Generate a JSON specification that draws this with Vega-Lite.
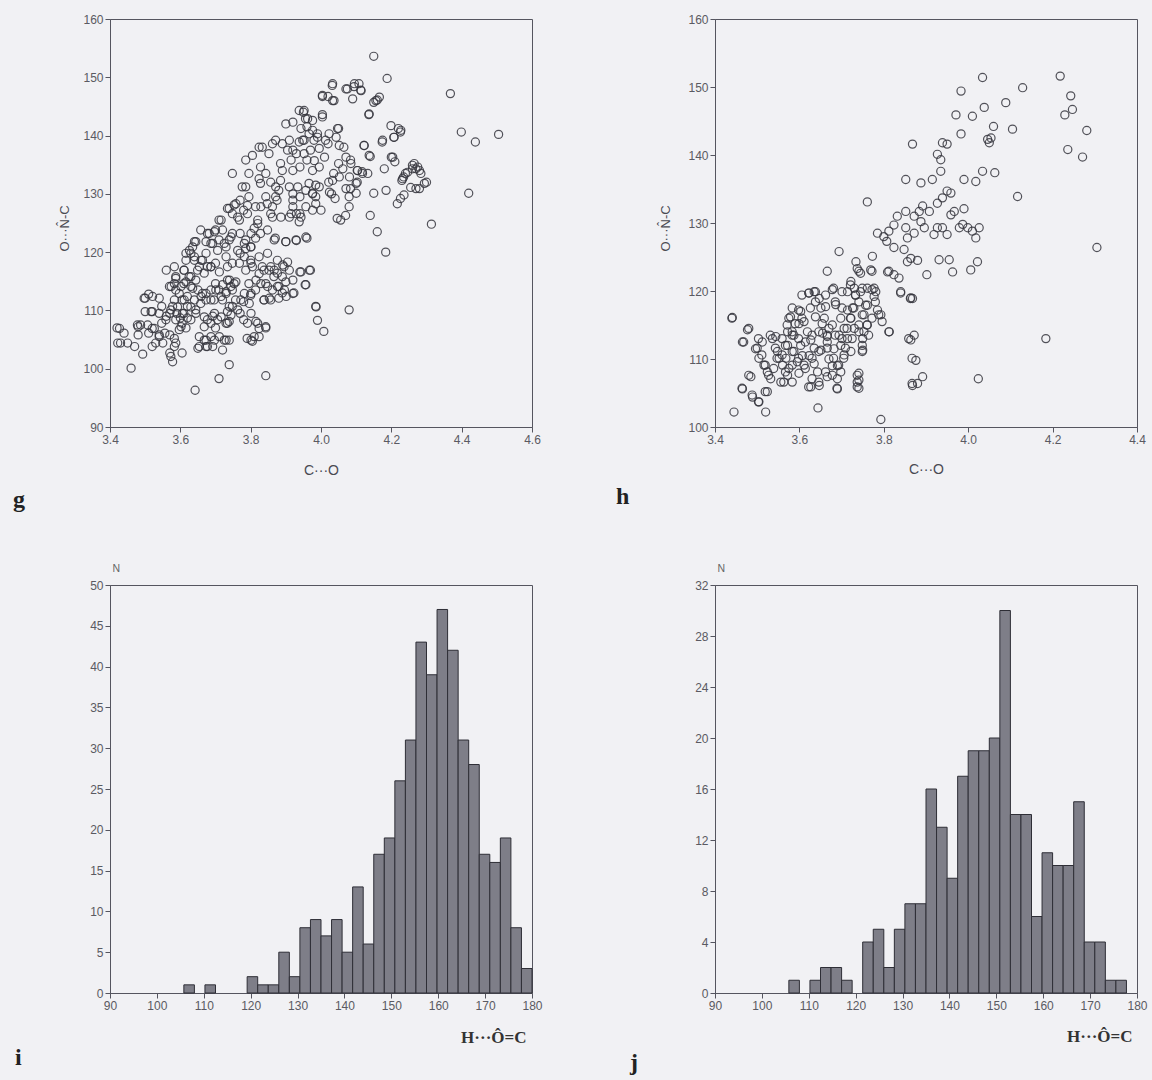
{
  "$schema": "https://vega.github.io/schema/vega-lite/v6.json",
  "background": "#f1f1f4",
  "padding": {"left": 12, "top": 12, "right": 5, "bottom": 5},
  "columns": 2,
  "bounds": "flush",
  "spacing": {"row": 158, "column": 183},
  "config": {
    "view": {"stroke": "#55555f", "strokeWidth": 1},
    "axis": {"domainColor": "#55555f", "tickColor": "#55555f", "tickSize": 5, "labelColor": "#5a5a62", "labelFont": "Liberation Sans", "labelFontSize": 12, "labelPadding": 2, "grid": false, "labelFlush": false, "labelOverlap": false, "titleFont": "Liberation Sans", "titleFontWeight": "normal", "titleColor": "#4a4a52"},
    "title": {"font": "Liberation Serif", "fontSize": 24, "fontWeight": "bold", "color": "#222"}
  },
  "datasets": {
    "g": [
{"co":4.15,"a":153.6},{"co":4.188,"a":149.8},{"co":4.368,"a":147.2},{"co":4.399,"a":140.6},{"co":4.439,"a":138.9},{"co":4.505,"a":140.2},{"co":4.42,"a":130.1},{"co":4.314,"a":124.8},{"co":4.184,"a":120},{"co":4.08,"a":110.1},{"co":3.985,"a":110.7},{"co":3.99,"a":108.3},{"co":4.008,"a":106.4},{"co":3.843,"a":98.8},{"co":3.71,"a":98.3},{"co":3.642,"a":96.3},{"co":3.46,"a":100.1},{"co":3.739,"a":100.7},{"co":3.493,"a":102.5},{"co":3.42,"a":107},{"co":3.43,"a":104.4},{"co":3.45,"a":104.4},{"co":3.48,"a":107.2},{"co":3.48,"a":105.8},
{"co":4.032,"a":148.6},{"co":4.004,"a":146.7},{"co":4.02,"a":146.7},{"co":4.037,"a":146},{"co":4.075,"a":148},{"co":4.094,"a":148.4},{"co":4.113,"a":147.8},{"co":4.09,"a":146.3},{"co":4.108,"a":148.9},{"co":4.16,"a":146.1},{"co":4.15,"a":145.7},{"co":4.136,"a":143.6},{"co":4.004,"a":143.6},{"co":3.95,"a":144},{"co":3.956,"a":142.9},{"co":4.05,"a":141.2},{"co":4.22,"a":141.2},{"co":4.226,"a":140.6},{"co":4.207,"a":139.7},{"co":4.174,"a":138.9},{"co":4.122,"a":138.3},{"co":4.14,"a":136.4},{"co":4.2,"a":136.3},{"co":4.21,"a":135.5},{"co":4.18,"a":134.3},{"co":4.15,"a":130.1},{"co":4.185,"a":130.6},{"co":4.14,"a":126.3},{"co":4.16,"a":123.5},{"co":4.217,"a":128.3},{"co":4.226,"a":129.2},{"co":4.236,"a":129.8},{"co":4.23,"a":132.3},{"co":4.24,"a":133.5},{"co":4.26,"a":134.3},{"co":4.275,"a":134.6},{"co":4.265,"a":135.2},{"co":4.28,"a":134},{"co":4.255,"a":131.1},{"co":4.28,"a":130.9},{"co":4.3,"a":132},{"co":4.235,"a":132.9},{"co":4.103,"a":134},{"co":4.117,"a":133.8},{"co":4.133,"a":133.5},{"co":4.103,"a":132},{"co":4.084,"a":130.9},{"co":4.08,"a":129.5},{"co":4.08,"a":127.8},{"co":4.07,"a":126.3},{"co":4.056,"a":125.5},{"co":4.046,"a":125.8},{"co":4.084,"a":135.8},{"co":4.065,"a":138},{"co":4.05,"a":135.2},{"co":4.036,"a":133.5},{"co":4.022,"a":132},{"co":4.03,"a":130},{"co":4.04,"a":129.2},{"co":4.0,"a":127.2},{"co":3.985,"a":129.5},{"co":3.985,"a":131.5},{"co":3.96,"a":122.4},{"co":3.93,"a":122},{"co":3.9,"a":121.8},{"co":3.87,"a":122.4},{"co":3.94,"a":116.6},{"co":3.97,"a":116.9},{"co":3.955,"a":114.4},{"co":3.923,"a":113},{"co":3.89,"a":113},{"co":3.88,"a":112.1},{"co":3.838,"a":111.8},{"co":3.857,"a":111.8},{"co":3.89,"a":115.8},{"co":3.9,"a":114.9},{"co":3.824,"a":105.5},{"co":3.805,"a":104.7},{"co":3.79,"a":105.2},{"co":3.82,"a":107.8},{"co":3.843,"a":107},{"co":3.8,"a":112.6},{"co":3.78,"a":111.5},{"co":3.77,"a":109.5},{"co":3.78,"a":108.4},
{"co":3.56,"a":116.9},{"co":3.51,"a":112.8},{"co":3.5,"a":112.1},{"co":3.54,"a":112.1},{"co":3.52,"a":109.8},{"co":3.51,"a":106.1},{"co":3.52,"a":103.8},{"co":3.53,"a":104.4},{"co":3.54,"a":105.8},{"co":3.556,"a":106.1},{"co":3.57,"a":102.7},{"co":3.578,"a":101.2},{"co":3.587,"a":104.4},{"co":3.56,"a":109},{"co":3.57,"a":109.5},{"co":3.578,"a":110.7},{"co":3.583,"a":111.8},{"co":3.574,"a":114.1},{"co":3.587,"a":113.5},{"co":3.59,"a":109.5},{"co":3.6,"a":108.7},{"co":3.61,"a":109.5},{"co":3.605,"a":107.8},{"co":3.616,"a":107},{"co":3.597,"a":106.7},{"co":3.63,"a":108.4},{"co":3.62,"a":110.7},{"co":3.605,"a":111.8},{"co":3.62,"a":112.4},{"co":3.63,"a":114.1},{"co":3.61,"a":114.6},{"co":3.61,"a":116.9},{"co":3.625,"a":115.8},{"co":3.644,"a":115.2},{"co":3.63,"a":119.8},{"co":3.644,"a":121.8},{"co":3.64,"a":118.6},{"co":3.654,"a":117.5},{"co":3.663,"a":118.6},{"co":3.677,"a":117.5},{"co":3.65,"a":113.5},{"co":3.663,"a":112.9},{"co":3.673,"a":111.8},{"co":3.658,"a":111.2},{"co":3.644,"a":110.1},{"co":3.654,"a":105.5},{"co":3.65,"a":103.5},{"co":3.673,"a":103.8},{"co":3.687,"a":105.5},{"co":3.673,"a":104.9},{"co":3.692,"a":103.8},{"co":3.72,"a":103.2},{"co":3.73,"a":104.9},{"co":3.739,"a":104.9},{"co":3.677,"a":108.4},{"co":3.692,"a":109},{"co":3.706,"a":108.4},{"co":3.7,"a":107},{"co":3.687,"a":113.5},{"co":3.7,"a":114.6},{"co":3.71,"a":113.5},{"co":3.72,"a":114.4},{"co":3.73,"a":112.9},{"co":3.696,"a":111.8},{"co":3.72,"a":111.8},{"co":3.74,"a":115.2},{"co":3.753,"a":114.6},{"co":3.734,"a":109.8},{"co":3.739,"a":110.7},{"co":3.73,"a":107.8},{"co":3.739,"a":108.1},{"co":3.687,"a":117.5},{"co":3.7,"a":118.1},{"co":3.673,"a":119.8},{"co":3.692,"a":121.5},{"co":3.682,"a":123.2},{"co":3.71,"a":125.5},{"co":3.7,"a":123.8},{"co":3.72,"a":123.8},{"co":3.71,"a":122.1},{"co":3.73,"a":120.9},{"co":3.739,"a":122.1},{"co":3.748,"a":123.2},{"co":3.73,"a":119.2},{"co":3.748,"a":118.1},{"co":3.734,"a":127.5},{"co":3.748,"a":126.6},{"co":3.763,"a":126},{"co":3.753,"a":128.1},{"co":3.748,"a":133.5},{"co":3.77,"a":128.9},{"co":3.776,"a":131.2},{"co":3.786,"a":131.2},{"co":3.795,"a":129.5},{"co":3.78,"a":127.2},{"co":3.77,"a":123.2},{"co":3.786,"a":122.1},{"co":3.8,"a":120.9},{"co":3.786,"a":120.6},{"co":3.77,"a":119.8},{"co":3.8,"a":118.6},{"co":3.805,"a":117.5},{"co":3.824,"a":119.2},{"co":3.814,"a":122.4},{"co":3.828,"a":123.2},{"co":3.81,"a":124.1},{"co":3.82,"a":125.5},{"co":3.805,"a":136.6},{"co":3.828,"a":134.6},{"co":3.824,"a":132.6},{"co":3.833,"a":138},{"co":3.852,"a":136.9},{"co":3.862,"a":138.6},{"co":3.843,"a":133.5},{"co":3.857,"a":132},{"co":3.871,"a":131.2},{"co":3.843,"a":129.5},{"co":3.847,"a":128.3},{"co":3.862,"a":127.8},{"co":3.862,"a":126},{"co":3.88,"a":130.6},{"co":3.885,"a":132.3},{"co":3.89,"a":134},{"co":3.885,"a":135.2},{"co":3.871,"a":139.2},{"co":3.89,"a":138.6},{"co":3.91,"a":139.2},{"co":3.9,"a":142},{"co":3.92,"a":142.3},{"co":3.905,"a":137.5},{"co":3.92,"a":137.5},{"co":3.93,"a":136.9},{"co":3.915,"a":135.8},{"co":3.938,"a":138.9},{"co":3.952,"a":139.2},{"co":3.966,"a":140.3},{"co":3.976,"a":140.9},{"co":3.99,"a":140.3},{"co":3.96,"a":141.5},{"co":3.98,"a":139.2},{"co":3.99,"a":139.7},{"co":4.013,"a":139.2},{"co":3.952,"a":136.9},{"co":3.96,"a":135.8},{"co":3.97,"a":137.5},{"co":3.94,"a":134.6},{"co":3.92,"a":134},{"co":3.91,"a":131.2},{"co":3.92,"a":130},{"co":3.934,"a":131.2},{"co":3.94,"a":129.5},{"co":3.957,"a":130.6},{"co":3.966,"a":131.8},{"co":3.976,"a":130},{"co":3.985,"a":128.3},{"co":3.92,"a":127.8},{"co":3.93,"a":126.6},{"co":3.938,"a":125.2},{"co":3.91,"a":126},{"co":3.94,"a":126.6},{"co":3.957,"a":127.8},{"co":3.92,"a":128.9},{"co":3.976,"a":134},{"co":3.995,"a":134.6},{"co":4.01,"a":136.3},{"co":4.02,"a":138.6},{"co":4.023,"a":140.3},{"co":3.871,"a":129.5},{"co":3.875,"a":128.9},{"co":3.828,"a":131.8},{"co":3.814,"a":127.8},{"co":3.786,"a":135.8},{"co":3.795,"a":133.5},{"co":3.748,"a":113.5},{"co":3.757,"a":111.8},{"co":3.748,"a":110.7},{"co":3.824,"a":116.3},{"co":3.833,"a":117.5},{"co":3.852,"a":116.9},{"co":3.866,"a":115.8},{"co":3.843,"a":114.6},{"co":3.862,"a":113.5},{"co":3.88,"a":114.1},{"co":3.814,"a":113.5},{"co":3.795,"a":114.6},{"co":3.786,"a":116.9},{"co":3.895,"a":117.5},{"co":3.91,"a":116.9},{"co":3.658,"a":123.8},{"co":3.673,"a":121.8},{"co":3.616,"a":119.8},{"co":3.635,"a":120.9},{"co":3.587,"a":115.8},{"co":3.583,"a":117.5},{"co":3.57,"a":105.8},{"co":3.583,"a":105.2},{"co":3.47,"a":103.8},{"co":3.44,"a":106.1},{"co":3.5,"a":109.8},{"co":3.487,"a":107.5},{"co":3.52,"a":106.9},{"co":3.547,"a":107.8},{"co":3.54,"a":109.5},{"co":3.547,"a":110.7},{"co":3.605,"a":102.7},{"co":3.824,"a":138},{"co":3.938,"a":144.3},{"co":3.976,"a":142.6},
{"co":3.427,"a":106.9},{"co":3.422,"a":104.4},{"co":3.478,"a":107.5},{"co":3.497,"a":112.1},{"co":3.521,"a":112.4},{"co":3.517,"a":109.8},{"co":3.507,"a":107.5},{"co":3.526,"a":106.9},{"co":3.54,"a":105.5},{"co":3.55,"a":104.4},{"co":3.573,"a":102.1},{"co":3.583,"a":103.8},{"co":3.559,"a":108.4},{"co":3.573,"a":110.1},{"co":3.583,"a":114.6},{"co":3.587,"a":115.5},{"co":3.602,"a":114.1},{"co":3.597,"a":112.9},{"co":3.611,"a":111.8},{"co":3.592,"a":110.6},{"co":3.606,"a":109.5},{"co":3.62,"a":108.7},{"co":3.587,"a":108.4},{"co":3.602,"a":107.2},{"co":3.616,"a":114.9},{"co":3.63,"a":115.8},{"co":3.635,"a":113.8},{"co":3.64,"a":111.8},{"co":3.63,"a":110.6},{"co":3.644,"a":109.5},{"co":3.668,"a":104.9},{"co":3.654,"a":103.8},{"co":3.677,"a":103.8},{"co":3.697,"a":104.9},{"co":3.711,"a":105.5},{"co":3.725,"a":104.9},{"co":3.668,"a":107.2},{"co":3.687,"a":107.8},{"co":3.668,"a":108.9},{"co":3.697,"a":109.5},{"co":3.716,"a":108.9},{"co":3.734,"a":107.8},{"co":3.744,"a":109.2},{"co":3.659,"a":112.4},{"co":3.673,"a":112.9},{"co":3.687,"a":111.8},{"co":3.701,"a":113.5},{"co":3.716,"a":112.4},{"co":3.73,"a":113.2},{"co":3.744,"a":114.1},{"co":3.734,"a":115.2},{"co":3.758,"a":114.9},{"co":3.763,"a":110.1},{"co":3.772,"a":111.8},{"co":3.782,"a":112.9},{"co":3.801,"a":112.9},{"co":3.796,"a":111.2},{"co":3.801,"a":109.5},{"co":3.791,"a":107.8},{"co":3.815,"a":108.1},{"co":3.824,"a":106.9},{"co":3.81,"a":105.5},{"co":3.801,"a":104.9},{"co":3.843,"a":107.2},{"co":3.815,"a":115.2},{"co":3.829,"a":114.6},{"co":3.838,"a":116.9},{"co":3.857,"a":117.5},{"co":3.876,"a":116.4},{"co":3.891,"a":117.8},{"co":3.838,"a":111.8},{"co":3.853,"a":112.1},{"co":3.876,"a":114.1},{"co":3.896,"a":113.5},{"co":3.901,"a":112.4},{"co":3.92,"a":112.9},{"co":3.943,"a":116.6},{"co":3.967,"a":116.9},{"co":3.957,"a":114.4},{"co":3.986,"a":110.6},{"co":3.867,"a":122.1},{"co":3.9,"a":121.8},{"co":3.929,"a":122.1},{"co":3.957,"a":122.6},{"co":3.716,"a":125.5},{"co":3.739,"a":127.5},{"co":3.64,"a":121.8},{"co":3.626,"a":120.3},{"co":3.64,"a":119.2},{"co":3.659,"a":118.6},{"co":3.616,"a":118.6},{"co":3.611,"a":116.9},{"co":3.569,"a":114.1},{"co":3.687,"a":121.5},{"co":3.677,"a":123.2},{"co":3.697,"a":123.5},{"co":3.706,"a":120.3},{"co":3.725,"a":121.5},{"co":3.744,"a":122.6},{"co":3.763,"a":120.3},{"co":3.782,"a":121.5},{"co":3.801,"a":120.9},{"co":3.782,"a":119.2},{"co":3.801,"a":118.1},{"co":3.768,"a":118.1},{"co":3.734,"a":117.5},{"co":3.711,"a":116.6},{"co":3.687,"a":117.5},{"co":3.668,"a":116.4},{"co":3.649,"a":116.9},{"co":3.768,"a":125.5},{"co":3.791,"a":126.6},{"co":3.82,"a":124.9},{"co":3.848,"a":123.8},{"co":3.801,"a":123.2},{"co":3.758,"a":128.3},{"co":3.791,"a":128},{"co":3.829,"a":127.8},{"co":3.857,"a":126.6},{"co":3.886,"a":126},{"co":3.915,"a":126.6},{"co":3.943,"a":126},{"co":3.976,"a":127.2},{"co":3.867,"a":116.9},{"co":3.848,"a":119.8},{"co":3.876,"a":118.6},{"co":3.905,"a":118.3},{"co":3.92,"a":115.2},{"co":3.848,"a":114.1},
{"co":4.033,"a":148.9},{"co":4.004,"a":146.9},{"co":4.033,"a":146},{"co":4.071,"a":148},{"co":4.095,"a":148.9},{"co":4.114,"a":147.7},{"co":4.156,"a":146},{"co":4.166,"a":146.6},{"co":4.137,"a":143.7},{"co":3.952,"a":144.3},{"co":3.962,"a":142.9},{"co":4.004,"a":143.2},{"co":4.047,"a":141.2},{"co":3.943,"a":141.2},{"co":4.199,"a":141.7},{"co":4.227,"a":140.9},{"co":4.208,"a":139.7},{"co":4.175,"a":139.2},{"co":4.123,"a":138.3},{"co":4.137,"a":136.6},{"co":4.204,"a":136.3},{"co":4.104,"a":134},{"co":4.118,"a":133.5},{"co":4.043,"a":139.7},{"co":4.052,"a":138.3},{"co":4.071,"a":136.3},{"co":4.085,"a":135.2},{"co":4.062,"a":134.3},{"co":4.052,"a":132.9},{"co":4.033,"a":132.3},{"co":4.081,"a":132.9},{"co":4.1,"a":131.8},{"co":4.1,"a":130.1},{"co":4.071,"a":130.9},{"co":4.024,"a":130.3},{"co":3.995,"a":131.2},{"co":3.976,"a":130.1},{"co":4.26,"a":134.9},{"co":4.27,"a":134.3},{"co":4.246,"a":133.7},{"co":4.232,"a":132.6},{"co":4.284,"a":133.5},{"co":4.27,"a":130.9},{"co":4.294,"a":131.8},{"co":3.995,"a":137.8},{"co":3.981,"a":135.7},{"co":3.948,"a":139.2}
    ],
    "h": [
{"co":4.034,"a":151.4},{"co":3.983,"a":149.4},{"co":4.129,"a":149.9},{"co":4.089,"a":147.7},{"co":4.038,"a":147},{"co":4.01,"a":145.7},{"co":3.971,"a":145.9},{"co":4.06,"a":144.2},{"co":4.105,"a":143.8},{"co":3.983,"a":143.1},{"co":4.046,"a":142.3},{"co":4.05,"a":141.8},{"co":4.054,"a":142.5},{"co":4.218,"a":151.6},{"co":4.243,"a":148.7},{"co":4.229,"a":145.9},{"co":4.247,"a":146.7},{"co":4.281,"a":143.6},{"co":4.236,"a":140.8},{"co":4.271,"a":139.7},{"co":4.305,"a":126.4},{"co":4.184,"a":113},{"co":4.024,"a":107.1},{"co":4.117,"a":133.9},{"co":3.868,"a":141.6},{"co":3.939,"a":141.8},{"co":3.95,"a":141.6},{"co":3.927,"a":140.1},{"co":3.935,"a":139.3},{"co":3.99,"a":136.4},{"co":4.018,"a":136.1},{"co":4.034,"a":137.6},{"co":4.063,"a":137.4},{"co":3.935,"a":137.6},{"co":3.852,"a":136.4},{"co":3.888,"a":135.9},{"co":3.915,"a":136.4},{"co":3.761,"a":133.1},{"co":3.95,"a":134.7},{"co":3.959,"a":134.4},{"co":3.939,"a":133.7},{"co":3.927,"a":132.9},{"co":3.99,"a":132.1},{"co":3.967,"a":131.7},{"co":3.959,"a":131.2},{"co":3.908,"a":131.7},{"co":3.884,"a":131.7},{"co":3.872,"a":131},{"co":3.892,"a":132.5},{"co":3.852,"a":131.7},{"co":3.832,"a":131},{"co":3.824,"a":129.7},{"co":3.812,"a":128.8},{"co":3.8,"a":128},{"co":3.807,"a":127.3},{"co":3.785,"a":128.5},{"co":3.852,"a":129.3},{"co":3.872,"a":128.5},{"co":3.896,"a":129.3},{"co":3.888,"a":130.2},{"co":3.919,"a":128.3},{"co":3.927,"a":129.3},{"co":3.939,"a":129.3},{"co":3.95,"a":128.3},{"co":3.979,"a":129.3},{"co":3.987,"a":129.8},{"co":3.999,"a":129.3},{"co":4.01,"a":128.8},{"co":4.018,"a":127.8},{"co":4.026,"a":129.3},{"co":3.856,"a":127.8},{"co":3.824,"a":126.4},{"co":3.848,"a":126.1},{"co":3.864,"a":124.8},{"co":3.88,"a":124.5},{"co":3.856,"a":124.3},{"co":3.931,"a":124.6},{"co":3.955,"a":124.6},{"co":3.963,"a":122.8},{"co":4.022,"a":124.3},{"co":4.006,"a":123.1},{"co":3.902,"a":122.4},{"co":3.809,"a":122.8},{"co":3.824,"a":122.4},{"co":3.836,"a":121.9},{"co":3.84,"a":119.7},{"co":3.864,"a":119},{"co":3.773,"a":125.1},{"co":3.769,"a":123.1},{"co":3.694,"a":125.8},{"co":3.666,"a":122.9},{"co":3.734,"a":124.3},{"co":3.737,"a":123.3},{"co":3.745,"a":122.6},{"co":3.722,"a":121.4},{"co":3.73,"a":120.4},{"co":3.714,"a":119.9},{"co":3.745,"a":119.9},{"co":3.733,"a":119.4},{"co":3.777,"a":120.4},{"co":3.781,"a":119.9},{"co":3.777,"a":119.2},{"co":3.761,"a":120.4},{"co":3.785,"a":117.2},{"co":3.793,"a":116.5},{"co":3.813,"a":114},{"co":3.757,"a":117.9},{"co":3.753,"a":116.5},{"co":3.761,"a":115},{"co":3.753,"a":114},{"co":3.75,"a":113},{"co":3.75,"a":111.3},{"co":3.737,"a":107.6},{"co":3.741,"a":106.9},{"co":3.737,"a":105.9},{"co":3.864,"a":112.8},{"co":3.872,"a":113.5},{"co":3.876,"a":109.8},{"co":3.868,"a":106.1},{"co":3.892,"a":107.4},{"co":3.88,"a":106.4},{"co":3.868,"a":118.9},{"co":3.644,"a":102.8},{"co":3.793,"a":101.1},{"co":3.441,"a":116.1},{"co":3.465,"a":112.5},{"co":3.477,"a":114.3},{"co":3.445,"a":102.2},{"co":3.465,"a":105.6},{"co":3.485,"a":107.4},{"co":3.489,"a":104.4},{"co":3.504,"a":103.7},{"co":3.52,"a":102.2},{"co":3.496,"a":111.5},{"co":3.512,"a":112.5},{"co":3.504,"a":110.1},{"co":3.516,"a":109.1},{"co":3.524,"a":108.1},{"co":3.532,"a":107.1},{"co":3.524,"a":105.2},{"co":3.536,"a":113},{"co":3.544,"a":113.3},{"co":3.548,"a":111.1},{"co":3.556,"a":106.6},{"co":3.552,"a":110.1},{"co":3.568,"a":110.1},{"co":3.572,"a":112},{"co":3.579,"a":116.2},{"co":3.583,"a":114},{"co":3.575,"a":108.6},{"co":3.587,"a":111.1},{"co":3.595,"a":109.6},{"co":3.603,"a":112},{"co":3.607,"a":110.5},{"co":3.599,"a":107.9},{"co":3.611,"a":109.1},{"co":3.603,"a":117},{"co":3.611,"a":115.5},{"co":3.619,"a":114},{"co":3.627,"a":112.8},{"co":3.635,"a":111.6},{"co":3.623,"a":110.5},{"co":3.635,"a":109.3},{"co":3.643,"a":108.1},{"co":3.627,"a":105.9},{"co":3.647,"a":106.1},{"co":3.623,"a":119.7},{"co":3.635,"a":119.9},{"co":3.647,"a":118.9},{"co":3.651,"a":117.5},{"co":3.659,"a":116},{"co":3.67,"a":114.5},{"co":3.655,"a":113.8},{"co":3.666,"a":112.5},{"co":3.682,"a":111.5},{"co":3.67,"a":110},{"co":3.678,"a":120.2},{"co":3.686,"a":118},{"co":3.698,"a":116},{"co":3.706,"a":114.5},{"co":3.694,"a":113.5},{"co":3.698,"a":112},{"co":3.714,"a":113},{"co":3.722,"a":111.1},{"co":3.706,"a":110.6},{"co":3.69,"a":109},{"co":3.698,"a":108.1},{"co":3.69,"a":107.1},{"co":3.69,"a":105.6},{"co":3.666,"a":107.4},{"co":3.722,"a":116},{"co":3.73,"a":114.5},{"co":3.741,"a":114},{"co":3.726,"a":117.5},{"co":3.714,"a":117.2},{"co":3.678,"a":109},{"co":3.599,"a":115.2},{"co":3.587,"a":113.5},{"co":3.572,"a":114},{"co":3.56,"a":109.1},{"co":3.572,"a":107.6},{"co":3.666,"a":113.3},{"co":3.651,"a":111.3},
{"co":3.741,"a":122.9},{"co":3.772,"a":122.9},{"co":3.812,"a":122.9},{"co":3.84,"a":119.9},{"co":3.863,"a":118.9},{"co":3.859,"a":113},{"co":3.867,"a":110.1},{"co":3.867,"a":106.4},{"co":3.812,"a":114},{"co":3.44,"a":116},{"co":3.48,"a":114.5},{"co":3.468,"a":112.5},{"co":3.503,"a":113},{"co":3.5,"a":111.6},{"co":3.511,"a":110.6},{"co":3.519,"a":109.1},{"co":3.48,"a":107.6},{"co":3.464,"a":105.7},{"co":3.488,"a":104.7},{"co":3.503,"a":103.7},{"co":3.519,"a":105.2},{"co":3.527,"a":107.6},{"co":3.539,"a":108.6},{"co":3.531,"a":113.5},{"co":3.543,"a":111.6},{"co":3.559,"a":110.6},{"co":3.567,"a":112},{"co":3.583,"a":111.1},{"co":3.598,"a":110.1},{"co":3.583,"a":109.1},{"co":3.567,"a":108.1},{"co":3.563,"a":106.6},{"co":3.583,"a":106.6},{"co":3.614,"a":108.6},{"co":3.63,"a":107.1},{"co":3.622,"a":105.9},{"co":3.646,"a":106.6},{"co":3.662,"a":108.1},{"co":3.678,"a":107.6},{"co":3.689,"a":105.7},{"co":3.693,"a":109.1},{"co":3.681,"a":110.1},{"co":3.666,"a":111.6},{"co":3.646,"a":111.1},{"co":3.63,"a":110.1},{"co":3.614,"a":112.5},{"co":3.598,"a":113},{"co":3.583,"a":113.5},{"co":3.571,"a":115},{"co":3.59,"a":115.2},{"co":3.606,"a":116},{"co":3.598,"a":117.2},{"co":3.626,"a":117.5},{"co":3.638,"a":116.2},{"co":3.654,"a":115.2},{"co":3.646,"a":114},{"co":3.63,"a":113.5},{"co":3.666,"a":113.5},{"co":3.678,"a":115},{"co":3.685,"a":113.5},{"co":3.701,"a":113},{"co":3.713,"a":114.5},{"co":3.725,"a":113},{"co":3.709,"a":111.6},{"co":3.705,"a":110.1},{"co":3.721,"a":116},{"co":3.741,"a":115},{"co":3.76,"a":115},{"co":3.764,"a":113.5},{"co":3.749,"a":112},{"co":3.749,"a":111.1},{"co":3.741,"a":107.9},{"co":3.737,"a":106.6},{"co":3.741,"a":105.7},{"co":3.701,"a":117.5},{"co":3.685,"a":118.4},{"co":3.662,"a":119.4},{"co":3.638,"a":119.9},{"co":3.622,"a":119.7},{"co":3.638,"a":118.4},{"co":3.662,"a":117.7},{"co":3.681,"a":120.4},{"co":3.701,"a":119.9},{"co":3.721,"a":120.9},{"co":3.733,"a":119.4},{"co":3.749,"a":120.4},{"co":3.772,"a":120.2},{"co":3.78,"a":118.4},{"co":3.761,"a":117.9},{"co":3.741,"a":118.4},{"co":3.729,"a":117.5},{"co":3.749,"a":116.5},{"co":3.772,"a":116},{"co":3.788,"a":116.5},{"co":3.796,"a":115.5},{"co":3.575,"a":116},{"co":3.583,"a":117.5},{"co":3.606,"a":119.4},{"co":3.559,"a":113},{"co":3.547,"a":110.1}
    ],
    "i": [
{"lo":105.75,"hi":108,"n":1},{"lo":110.25,"hi":112.5,"n":1},{"lo":119.25,"hi":121.5,"n":2},{"lo":121.5,"hi":123.75,"n":1},{"lo":123.75,"hi":126,"n":1},{"lo":126,"hi":128.25,"n":5},{"lo":128.25,"hi":130.5,"n":2},{"lo":130.5,"hi":132.75,"n":8},{"lo":132.75,"hi":135,"n":9},{"lo":135,"hi":137.25,"n":7},{"lo":137.25,"hi":139.5,"n":9},{"lo":139.5,"hi":141.75,"n":5},{"lo":141.75,"hi":144,"n":13},{"lo":144,"hi":146.25,"n":6},{"lo":146.25,"hi":148.5,"n":17},{"lo":148.5,"hi":150.75,"n":19},{"lo":150.75,"hi":153,"n":26},{"lo":153,"hi":155.25,"n":31},{"lo":155.25,"hi":157.5,"n":43},{"lo":157.5,"hi":159.75,"n":39},{"lo":159.75,"hi":162,"n":47},{"lo":162,"hi":164.25,"n":42},{"lo":164.25,"hi":166.5,"n":31},{"lo":166.5,"hi":168.75,"n":28},{"lo":168.75,"hi":171,"n":17},{"lo":171,"hi":173.25,"n":16},{"lo":173.25,"hi":175.5,"n":19},{"lo":175.5,"hi":177.75,"n":8},{"lo":177.75,"hi":180,"n":3}
    ],
    "j": [
{"lo":105.75,"hi":108,"n":1},{"lo":110.25,"hi":112.5,"n":1},{"lo":112.5,"hi":114.75,"n":2},{"lo":114.75,"hi":117,"n":2},{"lo":117,"hi":119.25,"n":1},{"lo":121.5,"hi":123.75,"n":4},{"lo":123.75,"hi":126,"n":5},{"lo":126,"hi":128.25,"n":2},{"lo":128.25,"hi":130.5,"n":5},{"lo":130.5,"hi":132.75,"n":7},{"lo":132.75,"hi":135,"n":7},{"lo":135,"hi":137.25,"n":16},{"lo":137.25,"hi":139.5,"n":13},{"lo":139.5,"hi":141.75,"n":9},{"lo":141.75,"hi":144,"n":17},{"lo":144,"hi":146.25,"n":19},{"lo":146.25,"hi":148.5,"n":19},{"lo":148.5,"hi":150.75,"n":20},{"lo":150.75,"hi":153,"n":30},{"lo":153,"hi":155.25,"n":14},{"lo":155.25,"hi":157.5,"n":14},{"lo":157.5,"hi":159.75,"n":6},{"lo":159.75,"hi":162,"n":11},{"lo":162,"hi":164.25,"n":10},{"lo":164.25,"hi":166.5,"n":10},{"lo":166.5,"hi":168.75,"n":15},{"lo":168.75,"hi":171,"n":4},{"lo":171,"hi":173.25,"n":4},{"lo":173.25,"hi":175.5,"n":1},{"lo":175.5,"hi":177.75,"n":1}
    ]
  },
  "concat": [
    {
      "width": 422, "height": 408,
      "data": {"name": "g"},
      "title": {"text": "g", "orient": "bottom", "anchor": "start", "frame": "group", "dx": -97, "offset": 30, "baseline": "alphabetic"},
      "mark": {"type": "point", "shape": "circle", "filled": false, "size": 66, "stroke": "#36363e", "strokeWidth": 1.2, "opacity": 0.85},
      "encoding": {
        "x": {"field": "co", "type": "quantitative", "scale": {"domain": [3.4, 4.6], "nice": false, "zero": false},
          "axis": {"title": "C···O", "values": [3.4, 3.6, 3.8, 4.0, 4.2, 4.4, 4.6], "format": ".1f", "titleFontSize": 14, "titleX": 211, "titleY": 47, "titleAlign": "center", "titleBaseline": "alphabetic"}},
        "y": {"field": "a", "type": "quantitative", "scale": {"domain": [90, 160], "nice": false, "zero": false},
          "axis": {"title": "O···N̂-C", "values": [90, 100, 110, 120, 130, 140, 150, 160], "titleFontSize": 13, "titleAngle": -90, "titleX": -46, "titleY": 209, "titleAlign": "center", "titleBaseline": "middle"}}
      }
    },
    {
      "width": 422, "height": 408,
      "data": {"name": "h"},
      "title": {"text": "h", "orient": "bottom", "anchor": "start", "frame": "group", "dx": -99, "offset": 28, "baseline": "alphabetic"},
      "mark": {"type": "point", "shape": "circle", "filled": false, "size": 66, "stroke": "#36363e", "strokeWidth": 1.2, "opacity": 0.85},
      "encoding": {
        "x": {"field": "co", "type": "quantitative", "scale": {"domain": [3.4, 4.4], "nice": false, "zero": false},
          "axis": {"title": "C···O", "values": [3.4, 3.6, 3.8, 4.0, 4.2, 4.4], "format": ".1f", "titleFontSize": 14, "titleX": 211, "titleY": 46, "titleAlign": "center", "titleBaseline": "alphabetic"}},
        "y": {"field": "a", "type": "quantitative", "scale": {"domain": [100, 160], "nice": false, "zero": false},
          "axis": {"title": "O···N̂-C", "values": [100, 110, 120, 130, 140, 150, 160], "titleFontSize": 13, "titleAngle": -90, "titleX": -50, "titleY": 209, "titleAlign": "center", "titleBaseline": "middle"}}
      }
    },
    {
      "width": 422, "height": 408,
      "data": {"name": "i"},
      "title": {"text": "i", "orient": "bottom", "anchor": "start", "frame": "group", "dx": -95, "offset": 20, "baseline": "alphabetic"},
      "mark": {"type": "rect", "fill": "#7e7e88", "stroke": "#2e2e36", "strokeWidth": 1},
      "encoding": {
        "x": {"field": "lo", "type": "quantitative", "scale": {"domain": [90, 180], "nice": false, "zero": false},
          "axis": {"title": "H···Ô=C", "values": [90, 100, 110, 120, 130, 140, 150, 160, 170, 180], "titleFont": "Liberation Serif", "titleFontSize": 17, "titleFontWeight": "bold", "titleColor": "#333", "titleX": 416, "titleY": 49, "titleAlign": "right", "titleBaseline": "alphabetic"}},
        "x2": {"field": "hi"},
        "y": {"field": "n", "type": "quantitative", "scale": {"domain": [0, 50], "nice": false},
          "axis": {"title": "N", "values": [0, 5, 10, 15, 20, 25, 30, 35, 40, 45, 50], "titleFontSize": 10.5, "titleColor": "#666", "titleAngle": 0, "titleX": 2, "titleY": -14, "titleAlign": "left", "titleBaseline": "alphabetic"}},
        "y2": {"datum": 0}
      }
    },
    {
      "width": 422, "height": 408,
      "data": {"name": "j"},
      "title": {"text": "j", "orient": "bottom", "anchor": "start", "frame": "group", "dx": -85, "offset": 26, "baseline": "alphabetic"},
      "mark": {"type": "rect", "fill": "#7e7e88", "stroke": "#2e2e36", "strokeWidth": 1},
      "encoding": {
        "x": {"field": "lo", "type": "quantitative", "scale": {"domain": [90, 180], "nice": false, "zero": false},
          "axis": {"title": "H···Ô=C", "values": [90, 100, 110, 120, 130, 140, 150, 160, 170, 180], "titleFont": "Liberation Serif", "titleFontSize": 17, "titleFontWeight": "bold", "titleColor": "#333", "titleX": 417, "titleY": 48, "titleAlign": "right", "titleBaseline": "alphabetic"}},
        "x2": {"field": "hi"},
        "y": {"field": "n", "type": "quantitative", "scale": {"domain": [0, 32], "nice": false},
          "axis": {"title": "N", "values": [0, 4, 8, 12, 16, 20, 24, 28, 32], "titleFontSize": 10.5, "titleColor": "#666", "titleAngle": 0, "titleX": 2, "titleY": -14, "titleAlign": "left", "titleBaseline": "alphabetic"}},
        "y2": {"datum": 0}
      }
    }
  ]
}
